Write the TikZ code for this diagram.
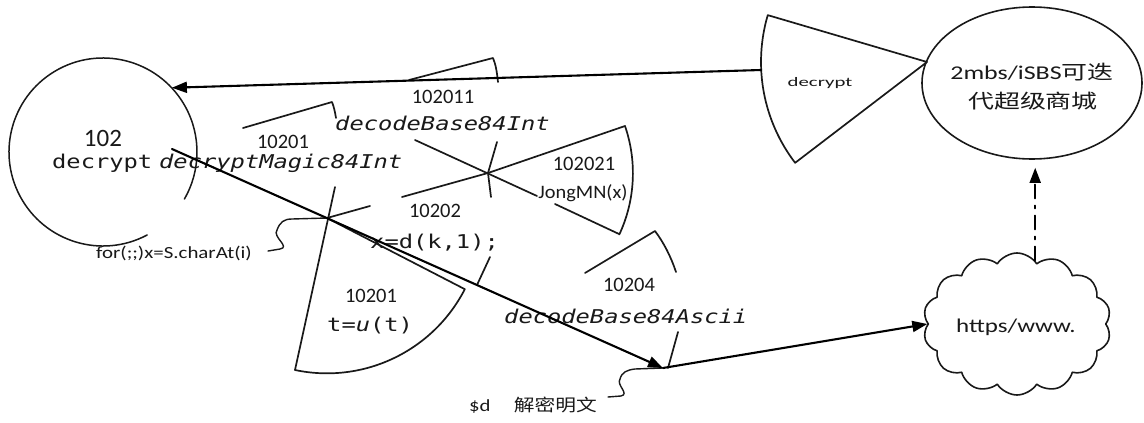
\documentclass[tikz,border=0pt]{standalone}
\usepackage{fontspec}
\usepackage{graphicx}
\setmainfont{Carlito}
\newfontfamily\cjk{Noto Sans CJK SC}
\newfontfamily\monof[FakeStretch=1.25]{DejaVu Sans Mono}
\usetikzlibrary{arrows.meta,shapes.geometric,shapes.symbols,calc}
\begin{document}
\begin{tikzpicture}[x=1pt,y=-1pt, line cap=round, line join=round,
  shp/.style={draw=black!90, line width=1.7pt},
  arr/.style={draw=black, line width=2.1pt, -{Triangle[length=15pt,width=11pt]}},
  lbl/.style={font=\fontsize{20.5}{24}\selectfont, text=black!90, inner sep=0pt},
  code/.style={font=\monof\fontsize{19}{22}\selectfont, text=black!90, inner sep=0pt, anchor=base west},
]
\useasboundingbox (0,0) rectangle (1144,423);
\fill[white] (0,0) rectangle (1144,423);

% main shapes
\node[circle, minimum size=188pt, inner sep=0pt] (circ) at (103,152) {};
\draw[shp, line width=1.5pt] (circ.center) ++(62:94) arc[start angle=62, end angle=390, radius=94];
\node[ellipse, draw=black!90, line width=1.6pt, minimum width=220pt, minimum height=152pt, inner sep=0pt] (ell) at (1032,83) {};
\node[cloud, draw=black!90, line width=1.6pt, cloud puffs=14, cloud puff arc=115, aspect=1.3,
      minimum width=188pt, minimum height=142pt, inner sep=0pt] (cloud) at (1017,324) {};
\coordinate (tip) at (927,62);
\draw[shp] (tip) -- ++(196.4:166) arc[start angle=196.4, end angle=142.6, radius=166] -- cycle;
\coordinate (trileft) at (761,70);

% crossing points
\coordinate (c1) at (327,218);
\coordinate (c2) at (488,173);
\coordinate (src) at (172,149);
\coordinate (dsd) at (663,368);

% visible parts of the fan shapes
\draw[shp] (243,128) -- (332,102) .. controls (334,107) and (335,112) .. (336,118);
\draw[shp] (409,80) -- (493,58) .. controls (496,65) and (497,73) .. (498,82);
\draw[shp] (335,187) -- (295,370);
\draw[shp] (c1) -- (370,206);
\draw[shp] (295,370) arc[start angle=101.9, end angle=27.2, radius=155] -- (c1);
\draw[shp] (415,140) -- (537,196);
\draw[shp] (555,204) -- (619,234);
\draw[shp] (402,197) -- (c2) -- (625,126) arc[start angle=-19, end angle=25, radius=145];
\draw[shp] (497,142) -- (c2) -- (491,197);
\draw[shp] (490,257) -- (477,285);
\draw[shp] (585,273) -- (655,231) .. controls (664,243) and (671,257) .. (676,272);
\draw[shp] (678,332) -- (668,368);

% texts
\node[lbl, font=\fontsize{25}{29}\selectfont] (t102) at (103,138) {102};
\node[code] (tdec) at (52,168) {decrypt};
\node[code] (tmagic) at (159,168) {\itshape decryptMagic84Int};
\node[lbl] (t10201a) at (283,142) {10201};
\node[lbl] (t102011) at (443,97) {102011};
\node[code] (tbase) at (335,130) {\itshape decodeBase84Int};
\node[lbl] (t102021) at (584,164) {102021};
\node[lbl, font=\fontsize{19}{22}\selectfont] (tjong) at (583,193) {\scalebox{1.07}[1]{JongMN(x)}};
\node[lbl] (t10202) at (435,211) {10202};
\node[code] (txd) at (370,248) {x=d(k,1);};
\node[lbl] (t10201b) at (371,296) {10201};
\node[code] (ttu) at (327,331) {t=\textit{u}(t)};
\node[lbl] (t10204) at (629,285) {10204};
\node[code] (tascii) at (504,323) {\itshape decodeBase84Ascii};
\node[lbl, font=\fontsize{17}{20}\selectfont] (fortxt) at (174,253) {\scalebox{1.23}[1]{for(;;)x=S.charAt(i)}};
\node[lbl, font=\fontsize{17}{20}\selectfont] (dtxt) at (533,405) {\scalebox{1.22}[1]{\$d\hspace{19pt}{\cjk 解密明文}}};
\node[lbl, font=\fontsize{13}{16}\selectfont] (tridec) at (820,83) {\scalebox{1.6}[1]{decrypt}};
\node[lbl, font=\fontsize{19.5}{22}\selectfont] (ell1) at (1032,72) {\scalebox{1.33}[1]{2mbs/iSBS{\cjk 可迭}}};
\node[lbl, font=\fontsize{19.5}{22}\selectfont] (ell2) at (1033,101) {\scalebox{1.33}[1]{\cjk 代超级商城}};
\node[lbl, font=\fontsize{19.5}{22}\selectfont] (www) at (1016,327) {\scalebox{1.28}[1]{https/www.}};

% callout squiggles
\draw[shp, line width=1.4pt] (268,251) -- (280,249) .. controls (291,247) and (272,237) .. (277,230)
   .. controls (280,222) and (284,219) .. (292,219) -- (c1);
\draw[shp, line width=1.4pt] (608,397) -- (621,396) .. controls (630,394) and (616,385) .. (620,379)
   .. controls (622,372) and (627,370) .. (635,369) -- (dsd);

% connectors
\draw[arr] (trileft) -- (circ.43);
\draw[arr] (src) -- (dsd);
\draw[arr] (dsd) -- (cloud.west);
\draw[arr, line width=1.8pt, dash pattern=on 14pt off 7pt on 3pt off 7pt] (cloud.74) -- ($(cloud.74 |- ell.south)+(0,8)$);
\end{tikzpicture}
\end{document}
